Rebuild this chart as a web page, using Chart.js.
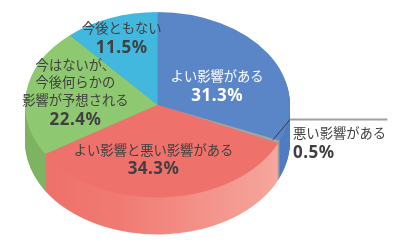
<!DOCTYPE html>
<html><head><meta charset="utf-8">
<script src="https://cdn.jsdelivr.net/npm/chart.js@4"></script>
<style>html,body{margin:0;padding:0;background:#fff;overflow:hidden}#wrap{width:407px;height:246px;position:relative}</style>
</head><body><div id="wrap"><canvas id="c" width="407" height="246"></canvas></div>
<script>
// ---- data ----
const categories = ['よい影響がある', '悪い影響がある', 'よい影響と悪い影響がある', '今はないが、今後何らかの影響が予想される', '今後ともない'];
const labelLines = [['よい影響がある'], ['悪い影響がある'], ['よい影響と悪い影響がある'], ['今はないが、', '今後何らかの', '影響が予想される'], ['今後ともない']];
const values = [31.3, 0.5, 34.3, 22.4, 11.5];

// ---- style ----
const topColors = ['#5a86c8', '#a3a3a3', '#ef716b', '#8ec870', '#43b8de'];
const sideColors = ['#4f7dc2', '#999999', null, '#7db462', '#3aa8cf'];
const labelPos = [[0.45, -0.20], [1.023, 0.414], [-0.03, 0.59], [-0.62, -0.134], [-0.27, -0.715]]; // in ellipse radii
const textColors = ['#ffffff', '#404040', '#404040', '#404040', '#404040'];
const alignLeft = [false, true, false, false, false];
const TILT = 0.70, DEPTH = 37;
const CJK = '"Noto Sans CJK JP", "Noto Sans", sans-serif';

function geom(chart) {
  const ca = chart.chartArea;
  const meta = chart.getDatasetMeta(0);
  const el0 = meta.data[0];
  const R = el0.outerRadius;
  const rx = ca.width / 2, ry = rx * TILT;
  return {meta, el0, R, rx, ry, cx: (ca.left + ca.right) / 2, cy: ca.top + ry};
}

const pie3d = {
  id: 'pie3d',
  beforeDatasetsDraw(chart) {
    const ctx = chart.ctx;
    const g = geom(chart);
    const sx = g.rx / g.R, sy = g.ry / g.R;
    for (let d = DEPTH; d >= 0; d--) {
      ctx.save();
      ctx.translate(g.cx, g.cy + d);
      ctx.scale(sx, sy);
      ctx.translate(-g.el0.x, -g.el0.y);
      g.meta.data.forEach((el, i) => {
        const orig = el.options.backgroundColor;
        if (d > 0) {
          if (sideColors[i]) el.options.backgroundColor = sideColors[i];
          else {
            const gr = ctx.createLinearGradient(g.el0.x - g.R, 0, g.el0.x + g.R, 0);
            gr.addColorStop(0, '#ee6e68');
            gr.addColorStop(0.35, '#f07a72');
            gr.addColorStop(1, '#f6aaa0');
            el.options.backgroundColor = gr;
          }
        }
        el.draw(ctx);
        el.options.backgroundColor = orig;
      });
      ctx.restore();
    }
    return false;
  },
  afterDraw(chart) {
    const ctx = chart.ctx;
    const g = geom(chart);
    // leader line for small slice
    const el = g.meta.data[1];
    const mid = (el.startAngle + el.endAngle) / 2;
    const px = g.cx + Math.cos(mid) * g.rx * 0.95, py = g.cy + Math.sin(mid) * g.ry * 0.95;
    const ex = g.cx + g.rx * 1.0, ey = g.cy + g.ry * 0.16;
    ctx.save();
    ctx.strokeStyle = '#3a3a3a'; ctx.lineWidth = 1;
    ctx.beginPath(); ctx.moveTo(px, py); ctx.lineTo(ex, ey); ctx.stroke();
    ctx.strokeStyle = '#a0a0a0'; ctx.lineWidth = 2;
    ctx.beginPath(); ctx.moveTo(ex, ey); ctx.lineTo(g.cx + g.rx * 1.735, ey); ctx.stroke();
    ctx.restore();
    // labels
    labelLines.forEach((lines, i) => {
      const x = g.cx + labelPos[i][0] * g.rx, yc = g.cy + labelPos[i][1] * g.ry;
      const n = lines.length;
      const total = (n - 1) * 17.5 + 20;
      let y = yc - total / 2;
      ctx.save();
      ctx.fillStyle = textColors[i];
      ctx.textAlign = alignLeft[i] ? 'left' : 'center';
      ctx.textBaseline = 'middle';
      ctx.font = '13.3px ' + CJK;
      lines.forEach((t, j) => { ctx.fillText(t, x, y + j * 17.5); });
      ctx.font = 'bold 17px "Noto Sans", "Liberation Sans", sans-serif';
      try { ctx.letterSpacing = '0.5px'; } catch (e) {}
      ctx.fillText(values[i].toFixed(1) + '%', x, y + (n - 1) * 17.5 + 20);
      ctx.restore();
    });
  }
};

new Chart(document.getElementById('c'), {
  type: 'pie',
  data: {
    labels: categories,
    datasets: [{data: values, backgroundColor: topColors, borderWidth: 0}]
  },
  options: {
    responsive: false,
    animation: false,
    events: [],
    layout: {padding: {left: 25, right: 117, top: 12, bottom: 0}},
    plugins: {legend: {display: false}, tooltip: {enabled: false}}
  },
  plugins: [pie3d]
});
</script>
</body></html>
